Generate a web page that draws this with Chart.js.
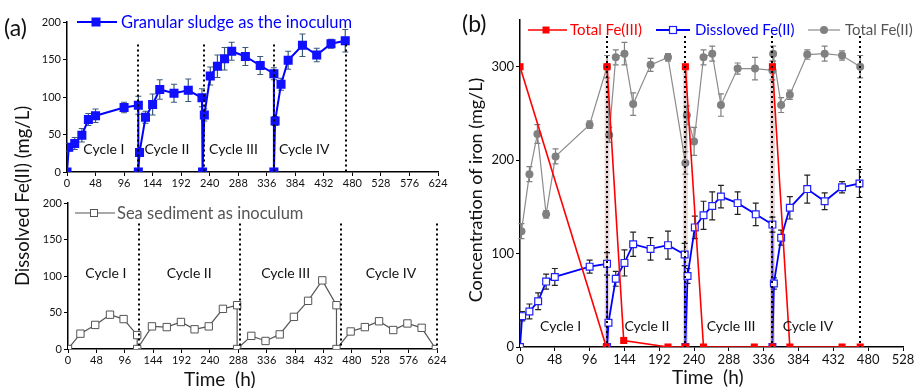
<!DOCTYPE html>
<html lang="en">
<head>
<meta charset="UTF-8">
<title>Fe(II) production: granular sludge vs sea sediment</title>
<script src="https://cdn.jsdelivr.net/npm/chart.js"></script>
<style>
  body { margin: 0; width: 919px; height: 388px; background: #fff; position: relative; overflow: hidden;
         font-family: Lato, "Open Sans", sans-serif; color: #111; }
  canvas { position: absolute; }
  .t { position: absolute; white-space: nowrap; line-height: 1; }
  .rot { transform: translate(-50%, -50%) rotate(-90deg); }
  svg { position: absolute; overflow: visible; }
</style>
</head>
<body>
<canvas id="topLeft" width="460" height="195" style="left:0;top:0"></canvas>
<canvas id="bottomLeft" width="460" height="193" style="left:0;top:195px"></canvas>
<canvas id="right" width="459" height="388" style="left:460px;top:0"></canvas>

<!-- panel labels, axis titles -->
<div class="t" style="left:4px;top:16px;font-size:23px">(a)</div>
<div class="t" style="left:462px;top:12px;font-size:23px">(b)</div>
<div class="t rot" style="left:22px;top:196px;font-size:18.5px">Dissolved Fe(II) (mg/L)</div>
<div class="t rot" style="left:475px;top:190px;font-size:18px">Concentration of iron (mg/L)</div>
<div class="t" style="left:184px;top:369px;font-size:19px">Time&nbsp; (h)</div>
<div class="t" style="left:672px;top:367px;font-size:19px">Time&nbsp; (h)</div>

<!-- legends -->
<svg style="left:77px;top:22px" width="40" height="1"><line x1="0" y1="0" x2="40" y2="0" stroke="#0000ff" stroke-width="2"/><rect x="14.5" y="-4.5" width="9" height="9" fill="#1010ff"/></svg>
<div class="t" style="left:121px;top:14px;font-size:16.5px;color:#0000ff">Granular sludge as the inoculum</div>

<svg style="left:75px;top:213px" width="40" height="1"><line x1="0" y1="0" x2="40" y2="0" stroke="#555" stroke-width="1.2"/><rect x="15.5" y="-3.5" width="7" height="7" fill="#fff" stroke="#555" stroke-width="1"/></svg>
<div class="t" style="left:117px;top:205px;font-size:16.5px;color:#555">Sea sediment as inoculum</div>

<svg style="left:528px;top:30px" width="39" height="1"><line x1="0" y1="0" x2="39" y2="0" stroke="#ff0000" stroke-width="1.6"/><rect x="14.5" y="-3.5" width="7" height="7" fill="#ff0000"/></svg>
<div class="t" style="left:570px;top:22px;font-size:15px;color:#ff0000">Total Fe(III)</div>
<svg style="left:656px;top:30px" width="34" height="1"><line x1="0" y1="0" x2="34" y2="0" stroke="#0000ff" stroke-width="1.8"/><rect x="13.5" y="-3.5" width="7" height="7" fill="#fff" stroke="#2020ff" stroke-width="1.2"/></svg>
<div class="t" style="left:695px;top:22px;font-size:15px;color:#0000ff">Dissloved Fe(II)</div>
<svg style="left:808px;top:30px" width="32" height="1"><line x1="0" y1="0" x2="32" y2="0" stroke="#8c8c8c" stroke-width="1.2"/><circle cx="16" cy="0" r="4" fill="#808080"/></svg>
<div class="t" style="left:845px;top:22px;font-size:15px;color:#555">Total Fe(II)</div>

<script>
// ---- data ----
const cycleNames = ['Cycle I', 'Cycle II', 'Cycle III', 'Cycle IV'];

// granular sludge run: dissolved Fe(II), used in (a) top and (b)
const gsHours = [0, 3, 13, 25, 36, 48, 96, 120, 120, 122, 132, 144, 156, 180, 204, 227, 228, 231, 241, 253, 265, 277, 300, 325, 348, 348, 350, 360, 372, 396, 420, 444, 468];
const gsFe2 = [0, 33, 38, 49, 70, 75, 86, 89, 0, 26, 73, 90, 110, 105, 109, 99, 0, 76, 128, 141, 151, 161, 154, 142, 131, 0, 68, 117, 149, 169, 156, 171, 175];
const gsErr = [0, 5, 8, 9, 8, 9, 7, 12, 0, 3, 8, 14, 13, 12, 15, 12, 0, 8, 12, 15, 15, 12, 12, 12, 8, 0, 6, 8, 12, 15, 9, 6, 15];

// sea sediment run, (a) bottom
const ssHours = [0, 21, 46, 71, 94, 117, 117, 142, 167, 191, 214, 238, 262, 286, 286, 310, 334, 358, 382, 406, 430, 454, 454, 478, 502, 526, 550, 574, 598, 622];
const ssFe2 = [0, 21, 33, 47, 41, 19, 0, 31, 30, 37, 27, 31, 55, 60, 0, 18, 11, 20, 44, 66, 94, 60, 0, 24, 30, 38, 26, 35, 29, 0];

// (b) total Fe(II)
const tfHours = [2, 13, 24, 36, 49, 96, 120, 123, 132, 144, 156, 180, 204, 228, 230, 240, 253, 265, 277, 300, 324, 348, 349, 360, 372, 396, 420, 444, 469];
const tfFe2 = [124, 185, 228, 142, 204, 238, 300, 227, 310, 314, 260, 302, 310, 197, 248, 220, 310, 314, 259, 298, 298, 296, 314, 259, 270, 313, 314, 312, 300];
const tfErr = [8, 8, 10, 4, 8, 4, 12, 8, 8, 12, 12, 7, 4, 12, 10, 15, 8, 8, 12, 6, 12, 10, 8, 8, 5, 5, 8, 5, 12];

// (b) total Fe(III)
const f3Hours = [0, 119, 120, 143, 204, 228, 228, 253, 323, 348, 348, 372, 444, 469];
const f3Fe3 = [300, 0, 300, 7, 0, 0, 300, 0, 0, 0, 300, 0, 0, 0];

// cycle boundaries (h) and where the cycle names sit
const topDividers = [120, 230, 349, 469];
const bottomDividers = [120, 291, 462, 624];
const rightDividers = [120, 228, 348, 469];
const topLabelX = [62, 168, 280, 399];
const bottomLabelX = [64, 205, 368, 546];
const rightLabelX = [56, 175, 291, 397];

const xy = (xs, ys) => xs.map((h, i) => ({ x: h, y: ys[i] }));

Chart.defaults.font.family = 'Lato, "Open Sans", sans-serif';
Chart.defaults.color = '#111';

// dotted cycle lines, cycle names, error bars
function marks(cfg) {
  return {
    id: 'marks',
    beforeDatasetsDraw(chart) {
      const { ctx, scales: { x, y } } = chart;
      ctx.save();
      if (cfg.bands) {
        ctx.fillStyle = 'rgba(205,180,180,0.5)';
        cfg.bands.forEach(h => {
          const px = x.getPixelForValue(h);
          const top = y.getPixelForValue(300);
          ctx.fillRect(px - 2.5, top, 5, y.getPixelForValue(0) - top);
        });
      }
      chart.data.datasets.forEach(ds => {
        if (!ds.errs) return;
        ctx.strokeStyle = ds.errColor;
        ctx.lineWidth = 1.2;
        ds.data.forEach((p, i) => {
          const e = ds.errs[i];
          if (!e) return;
          const px = x.getPixelForValue(p.x);
          const y1 = y.getPixelForValue(p.y + e), y2 = y.getPixelForValue(p.y - e);
          ctx.beginPath();
          ctx.moveTo(px, y1); ctx.lineTo(px, y2);
          ctx.moveTo(px - 3, y1); ctx.lineTo(px + 3, y1);
          ctx.moveTo(px - 3, y2); ctx.lineTo(px + 3, y2);
          ctx.stroke();
        });
      });
      ctx.restore();
    },
    afterDatasetsDraw(chart) {
      const { ctx, scales: { x, y } } = chart;
      ctx.save();
      ctx.strokeStyle = '#000';
      ctx.lineWidth = 2;
      ctx.setLineDash([2, 3]);
      cfg.dividers.forEach(h => {
        const px = Math.round(x.getPixelForValue(h));
        ctx.beginPath();
        ctx.moveTo(px, y.getPixelForValue(cfg.dividerTop));
        ctx.lineTo(px, y.getPixelForValue(0));
        ctx.stroke();
      });
      ctx.setLineDash([]);
      ctx.fillStyle = '#111';
      ctx.font = cfg.labelFont;
      ctx.textAlign = 'center';
      ctx.textBaseline = 'middle';
      cfg.labelX.forEach((h, i) => {
        ctx.fillText(cycleNames[i], x.getPixelForValue(h), y.getPixelForValue(cfg.labelY));
      });
      ctx.restore();
    }
  };
}

function axes(xMax, yMax, yStep, tickSize, yWidth) {
  const grid = { drawOnChartArea: false, drawTicks: true, tickLength: 4, color: '#000', lineWidth: 1 };
  const border = { color: '#000', width: 1.5 };
  return {
    x: {
      type: 'linear', min: 0, max: xMax,
      ticks: { stepSize: 48, maxRotation: 0, autoSkip: false, padding: 1, font: { size: tickSize } },
      grid, border,
      afterFit: s => { s.height = 20; s.paddingLeft = 0; s.paddingRight = 0; }
    },
    y: {
      min: 0, max: yMax,
      ticks: { stepSize: yStep, padding: 2, font: { size: tickSize } },
      grid, border,
      afterBuildTicks: s => { s.ticks = s.ticks.filter(t => t.value % yStep === 0); },
      afterFit: s => { s.width = yWidth; s.paddingTop = 0; s.paddingBottom = 0; }
    }
  };
}

const common = {
  responsive: false,
  animation: false,
  events: [],
  plugins: { legend: { display: false }, tooltip: { enabled: false } }
};

new Chart(document.getElementById('topLeft'), {
  type: 'line',
  data: {
    datasets: [{
      data: xy(gsHours, gsFe2), errs: gsErr, errColor: '#3a5a7a',
      borderColor: '#0000ff', borderWidth: 2, tension: 0,
      pointStyle: 'rect', pointRadius: 6.4, pointBackgroundColor: '#1010ff', pointBorderColor: '#1010ff', pointBorderWidth: 0
    }]
  },
  options: { ...common, layout: { padding: { left: 27, top: 22, right: 22, bottom: 3 } }, scales: axes(624, 200, 50, 11, 40) },
  plugins: [marks({ dividers: topDividers, dividerTop: 170, labelX: topLabelX, labelY: 30, labelFont: '14px Lato' })]
});

new Chart(document.getElementById('bottomLeft'), {
  type: 'line',
  data: {
    datasets: [{
      data: xy(ssHours, ssFe2),
      borderColor: '#555', borderWidth: 1.2, tension: 0,
      pointStyle: 'rect', pointRadius: 5.2, pointBackgroundColor: '#fff', pointBorderColor: '#555', pointBorderWidth: 1
    }]
  },
  options: { ...common, layout: { padding: { left: 28, top: 8, right: 23, bottom: 19 } }, scales: axes(624, 200, 50, 11, 40) },
  plugins: [marks({ dividers: bottomDividers, dividerTop: 172, labelX: bottomLabelX, labelY: 104, labelFont: '14px Lato' })]
});

new Chart(document.getElementById('right'), {
  type: 'line',
  data: {
    datasets: [
      {
        data: xy(f3Hours, f3Fe3),
        borderColor: '#ff0000', borderWidth: 1.6, tension: 0,
        // the refill jumps (0 -> 300 at the same hour) show up pale in the original
        segment: { borderColor: c => c.p1.parsed.y > c.p0.parsed.y ? 'rgba(235,170,170,0.35)' : undefined },
        pointStyle: 'rect', pointRadius: 5, pointBackgroundColor: '#ff0000', pointBorderColor: '#ff0000', pointBorderWidth: 0
      },
      {
        data: xy(gsHours, gsFe2), errs: gsErr, errColor: '#222',
        borderColor: '#0000ff', borderWidth: 1.8, tension: 0,
        pointStyle: 'rect', pointRadius: 4.8, pointBackgroundColor: '#fff', pointBorderColor: '#2020ff', pointBorderWidth: 1.2
      },
      {
        data: xy(tfHours, tfFe2), errs: tfErr, errColor: '#808080',
        borderColor: '#8c8c8c', borderWidth: 1.2, tension: 0,
        pointStyle: 'circle', pointRadius: 4, pointBackgroundColor: '#808080', pointBorderColor: '#808080', pointBorderWidth: 0
      }
    ]
  },
  options: { ...common, layout: { padding: { left: 20, top: 20, right: 16, bottom: 21 } }, scales: axes(528, 350, 100, 13, 40) },
  plugins: [marks({ dividers: rightDividers, dividerTop: 333, bands: rightDividers.slice(0, 3), labelX: rightLabelX, labelY: 22, labelFont: '14px Lato' })]
});
</script>
</body>
</html>
